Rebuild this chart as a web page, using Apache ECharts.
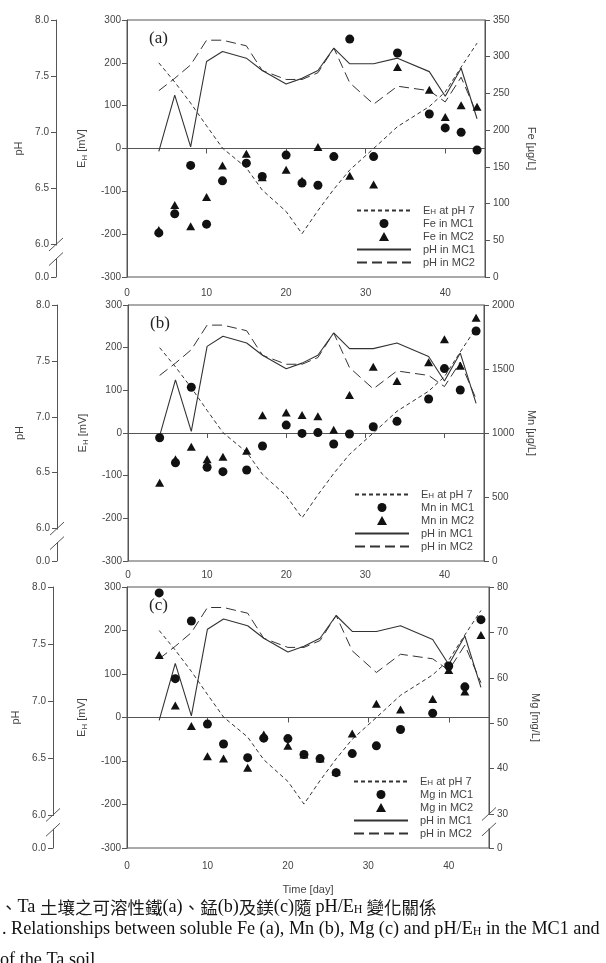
<!DOCTYPE html>
<html>
<head>
<meta charset="utf-8">
<script src="https://cdn.jsdelivr.net/npm/echarts@6/dist/echarts.min.js"></script>
<style>
  html, body { margin: 0; padding: 0; background: #fff; }
  #chart { width: 606px; height: 963px; }
</style>
</head>
<body>
<div id="chart"></div>
<script>
// sampling days (same for every panel)
const days = [4, 6, 8, 10, 12, 15, 17, 20, 22, 24, 26, 28, 31, 34, 38, 40, 42, 44];

// E_H at pH 7 [mV] and pH of both microcosms (shared by the three panels)
const ehAtPH7 = [200, 155, 106, 53, 1, -45, -97, -147, -199, -145, -95, -50, 0, 51, 98, 132, 190, 246];
const phMC1 = [6.83, 7.33, 6.87, 7.63, 7.72, 7.66, 7.55, 7.43, 7.48, 7.55, 7.75, 7.61, 7.61, 7.66, 7.54, 7.32, 7.57, 7.12];
const phMC2 = [7.37, 7.48, 7.60, 7.82, 7.82, 7.77, 7.55, 7.47, 7.47, 7.53, 7.75, 7.44, 7.25, 7.41, 7.37, 7.27, 7.49, 7.16];

// soluble metals
const feMC1 = [60, 86, 152, 72, 131, 155, 137, 166, 128, 125, 164, 324, 164, 305, 222, 203, 197, 173];
const feMC2 = [64, 98, 69, 109, 152, 168, 136, 146, 131, 177, null, 138, 126, 286, 255, 218, 234, 232];
const mnMC1 = [963, 768, 1357, 732, 698, 711, 898, 1062, 997, 1003, 914, 992, 1049, 1091, 1266, 1503, 1336, 1797];
const mnMC2 = [612, 794, 893, 794, 815, 862, 1138, 1161, 1141, 1130, 1026, 1297, 1518, 1406, 1552, 1732, 1526, 1901];
const mgMC1 = [78.7, 59.8, 72.5, 49.8, 45.4, 42.4, 46.7, 46.6, 43.1, 42.2, 39.1, 43.3, 45.0, 48.6, 52.2, 62.6, 58.0, 72.8];
const mgMC2 = [65.0, 53.9, 49.4, 42.7, 42.2, 40.2, 47.5, 45.0, 43.1, 42.2, 39.3, 47.7, 54.3, 53.0, 55.3, 61.7, 57.0, 69.4];

// tick labels
const xTicks = [0, 10, 20, 30, 40];
const phTicks = [6.0, 6.5, 7.0, 7.5, 8.0];
const phBreakLabel = '0.0';
const feTicks = [0, 50, 100, 150, 200, 250, 300, 350];
const mnTicks = [0, 500, 1000, 1500, 2000];
const mgTicks = [30, 40, 50, 60, 70, 80];
const mgBreakLabel = '0';

// axis extents below the "//" breaks
const phFloor = 5.71;
const mgFloor = 22.5;

// layout of the three panels
const gridLeft = [127, 128, 127];
const gridTop = [20, 305, 587];
const gridW = [358, 356, 362];
const gridH = [257, 256, 261];
const phOffset = [71, 71, 74];
const legendPos = [[356, 205], [354, 489], [353, 776]];
const xLabelMargin = [11, 9, 13];

const ink = '#444';
const lineInk = '#333';
const markInk = '#111';
const sans = 'Liberation Sans';
const triPath = 'path://M5,0 L10,9 L0,9 Z';

const pts = ys => days.map((d, i) => (ys[i] == null ? null : [d, ys[i]])).filter(Boolean);

const panels = [
  { tag: '(a)', el: 'Fe', unit: '[µg/L]', mc1: feMC1, mc2: feMC2, ticks: feTicks, floor: 0, brk: null },
  { tag: '(b)', el: 'Mn', unit: '[µg/L]', mc1: mnMC1, mc2: mnMC2, ticks: mnTicks, floor: 0, brk: null },
  { tag: '(c)', el: 'Mg', unit: '[mg/L]', mc1: mgMC1, mc2: mgMC2, ticks: mgTicks, floor: mgFloor, brk: mgBreakLabel }
];

const subRich = {
  e: { fontSize: 11, fontFamily: sans, color: ink, lineHeight: 14 },
  s: { fontSize: 8, fontFamily: sans, color: ink, verticalAlign: 'bottom', lineHeight: 8 }
};
const legRich = {
  e: { fontSize: 11, fontFamily: sans, color: ink, lineHeight: 11 },
  s: { fontSize: 8, fontFamily: sans, color: ink, verticalAlign: 'bottom', lineHeight: 6 }
};

const grid = [], xAxis = [], yAxis = [], series = [], legend = [], title = [];

panels.forEach((p, k) => {
  grid.push({
    left: gridLeft[k], top: gridTop[k], width: gridW[k], height: gridH[k],
    show: true, borderColor: '#555', borderWidth: 1, backgroundColor: 'transparent'
  });

  xAxis.push({
    type: 'value', gridIndex: k, min: 0, max: 45,
    axisLine: { lineStyle: { color: '#555' } },
    axisTick: { inside: false, length: 5, customValues: xTicks, lineStyle: { color: '#555' } },
    axisLabel: { customValues: xTicks, fontSize: 10, fontFamily: sans, color: ink, margin: xLabelMargin[k] },
    splitLine: { show: false },
    name: k === 2 ? 'Time [day]' : '',
    nameLocation: 'middle', nameGap: 36,
    nameTextStyle: { fontSize: 11, fontFamily: sans, color: ink }
  });

  // E_H axis
  yAxis.push({
    type: 'value', gridIndex: k, position: 'left', min: -300, max: 300, interval: 100,
    axisLine: { show: true, lineStyle: { color: '#555' } },
    axisTick: { show: true, length: 5, lineStyle: { color: '#555' } },
    axisLabel: { fontSize: 10, fontFamily: sans, color: ink, margin: 6 },
    splitLine: { show: false },
    name: '{e|E}{s|H}{e| [mV]}', nameLocation: 'middle', nameGap: 38, nameRotate: 90,
    nameTextStyle: { rich: subRich }
  });

  // pH axis, detached to the left, broken between 6.0 and 0.0
  const phVals = [phFloor].concat(phTicks);
  yAxis.push({
    type: 'value', gridIndex: k, position: 'left', offset: phOffset[k], min: phFloor, max: 8,
    axisLine: { show: true, lineStyle: { color: '#555' } },
    axisTick: { show: true, length: 5, customValues: phVals, lineStyle: { color: '#555' } },
    axisLabel: {
      customValues: phVals, fontSize: 10, fontFamily: sans, color: ink, margin: 7,
      formatter: v => (v < phTicks[0] - 0.01 ? phBreakLabel : v.toFixed(1))
    },
    splitLine: { show: false },
    name: 'pH', nameLocation: 'middle', nameGap: 28, nameRotate: 90,
    nameTextStyle: { fontSize: 11, fontFamily: sans, color: ink }
  });

  // metal axis on the right
  const mVals = p.brk ? [p.floor].concat(p.ticks) : p.ticks;
  yAxis.push({
    type: 'value', gridIndex: k, position: 'right',
    min: p.brk ? p.floor : p.ticks[0], max: p.ticks[p.ticks.length - 1],
    axisLine: { show: true, lineStyle: { color: '#555' } },
    axisTick: { show: true, length: 5, customValues: mVals, lineStyle: { color: '#555' } },
    axisLabel: {
      customValues: mVals, fontSize: 10, fontFamily: sans, color: ink, margin: 8,
      formatter: v => (p.brk && v < p.ticks[0] - 0.01 ? p.brk : String(v))
    },
    splitLine: { show: false },
    name: p.el + ' ' + p.unit, nameLocation: 'middle', nameGap: 41, nameRotate: -90,
    nameTextStyle: { fontSize: 11, fontFamily: sans, color: ink }
  });

  const yi = 3 * k;
  series.push(
    {
      name: 'EH at pH 7', type: 'line', xAxisIndex: k, yAxisIndex: yi, data: pts(ehAtPH7),
      symbol: 'none', lineStyle: { color: lineInk, width: 1, type: [4, 3] }, itemStyle: { color: lineInk }
    },
    {
      name: 'pH in MC1', type: 'line', xAxisIndex: k, yAxisIndex: yi + 1, data: pts(phMC1),
      symbol: 'none', lineStyle: { color: lineInk, width: 1.1, type: 'solid' }, itemStyle: { color: lineInk }
    },
    {
      name: 'pH in MC2', type: 'line', xAxisIndex: k, yAxisIndex: yi + 1, data: pts(phMC2),
      symbol: 'none', lineStyle: { color: lineInk, width: 1, type: [10, 5] }, itemStyle: { color: lineInk }
    },
    {
      name: p.el + ' in MC1', type: 'scatter', xAxisIndex: k, yAxisIndex: yi + 2, data: pts(p.mc1),
      symbol: 'circle', symbolSize: 9, itemStyle: { color: markInk, opacity: 1 }, z: 5
    },
    {
      name: p.el + ' in MC2', type: 'scatter', xAxisIndex: k, yAxisIndex: yi + 2, data: pts(p.mc2),
      symbol: 'triangle', symbolSize: [9, 8], itemStyle: { color: markInk, opacity: 1 }, z: 6
    }
  );

  const noDot = { color: 'transparent', opacity: 0, borderWidth: 0 };
  legend.push({
    orient: 'vertical', left: legendPos[k][0], top: legendPos[k][1],
    itemWidth: 54, itemHeight: 9, itemGap: 2, padding: 0, selectedMode: false,
    data: [
      { name: 'EH at pH 7', itemStyle: noDot },
      { name: p.el + ' in MC1', icon: 'circle', itemStyle: { color: markInk, opacity: 1 } },
      { name: p.el + ' in MC2', icon: triPath, itemStyle: { color: markInk, opacity: 1 } },
      { name: 'pH in MC1', itemStyle: noDot },
      { name: 'pH in MC2', itemStyle: noDot }
    ],
    formatter: n => (n === 'EH at pH 7' ? '{e|E}{s|H}{e| at pH 7}' : '{e|' + n + '}'),
    textStyle: { padding: [0, 0, 0, 7], rich: legRich }
  });

  title.push({
    text: p.tag, left: gridLeft[k] + 22, top: gridTop[k] + 10, padding: 0,
    textStyle: { fontFamily: 'Liberation Serif', fontSize: 17, fontWeight: 'normal', color: '#222' }
  });
});

// caption under the figure
const capRich = {
  c: { fontFamily: 'Noto Sans CJK TC', fontSize: 17.5, fontWeight: 'normal', color: '#1a1a1a' },
  t: { fontFamily: 'Liberation Serif', fontSize: 18.2, fontWeight: 'normal', color: '#111' },
  h: { fontFamily: 'Liberation Serif', fontSize: 12, fontWeight: 'normal', color: '#111', verticalAlign: 'bottom', lineHeight: 10 }
};
const capStyle = { fontWeight: 'normal', rich: capRich };
title.push(
  {
    text: '{c|、}{t|Ta }{c|土壤之可溶性鐵}{t|(a)}{c|、錳}{t|(b)}{c|及鎂}{t|(c)}{c|隨 }{t|pH/E}{h|H}{c| 變化關係}',
    left: 0, top: 898, padding: 0, textStyle: capStyle
  },
  {
    text: '{t|. Relationships between soluble Fe (a), Mn (b), Mg (c) and pH/E}{h|H}{t| in the MC1 and}',
    left: 2, top: 920, padding: 0, textStyle: capStyle
  },
  {
    text: '{t|of the Ta soil}', left: 0, top: 951, padding: 0, textStyle: capStyle
  }
);

const chart = echarts.init(document.getElementById('chart'));
chart.setOption({
  animation: false,
  backgroundColor: '#fff',
  title, grid, xAxis, yAxis, legend, series
});

// "//" axis-break marks, placed through the axes' own scales
const elements = [];
function addBreak(x, yAxisIndex, hi, lo) {
  const y1 = chart.convertToPixel({ yAxisIndex }, hi);
  const y2 = chart.convertToPixel({ yAxisIndex }, lo);
  elements.push({
    type: 'rect', z: 100, shape: { x: x - 3, y: y1 + 1, width: 6, height: y2 - y1 - 2 },
    style: { fill: '#fff' }
  });
  [y1, y2].forEach(y => elements.push({
    type: 'line', z: 101, shape: { x1: x - 7, y1: y + 6.5, x2: x + 7, y2: y - 6.5 },
    style: { stroke: '#555', lineWidth: 1 }
  }));
}
panels.forEach((p, k) => {
  addBreak(gridLeft[k] - phOffset[k], 3 * k + 1, phTicks[0], 5.87);
  if (p.brk) addBreak(gridLeft[k] + gridW[k], 3 * k + 2, p.ticks[0], 26.6);
});
chart.setOption({ graphic: { elements } });
</script>
</body>
</html>
